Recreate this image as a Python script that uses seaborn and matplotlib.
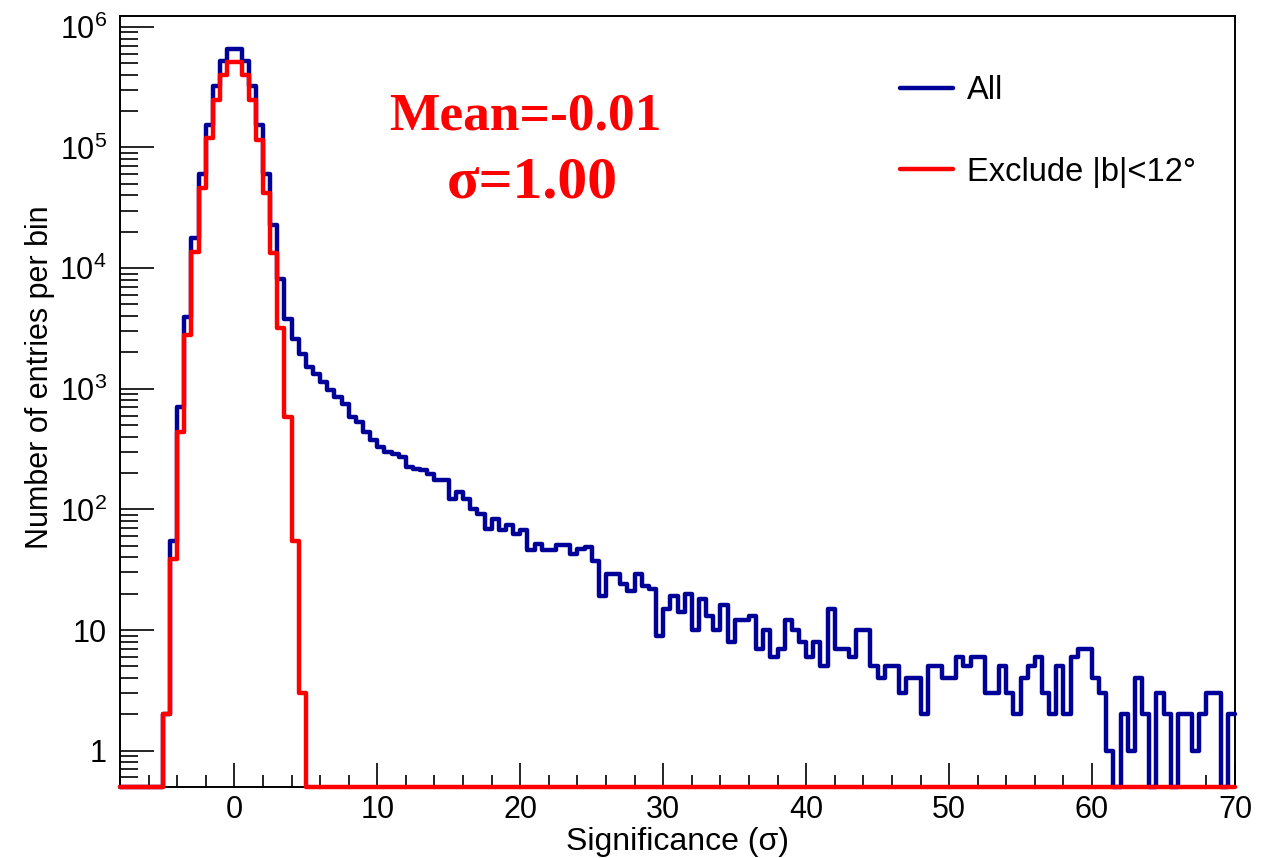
import numpy as np
import pandas as pd
import matplotlib
matplotlib.use("Agg")
import matplotlib.pyplot as plt
import seaborn as sns
from matplotlib.ticker import FixedLocator, FixedFormatter, MultipleLocator, NullFormatter

# histogram binning: 0.5 wide bins from -8 to 70
bin_lo, bin_hi, bin_w = -8.0, 70.0, 0.5

# counts per bin (bins -8 ... -5.5 are empty)
all_counts = [0] * 6 + [
    2, 55, 700, 3900, 17700, 60000, 154000, 324000, 523000, 660000,
    660000, 523000, 324000, 154000, 60000, 22700, 8200, 3820, 2610, 1960,
    1520, 1320, 1140, 973, 856, 753, 584, 530, 438, 374,
    329, 299, 286, 272, 224, 218, 211, 198, 174, 174,
    123, 139, 123, 101, 92, 69, 84, 67, 74, 63,
    67, 46, 52, 46, 46, 51, 51, 43, 47, 49,
    37, 19, 29, 29, 24, 21, 29, 23, 22, 9,
    15, 19, 14, 20, 10, 18, 13, 10, 16, 8,
    12, 12, 13, 7, 10, 6, 7, 12, 10, 8,
    6, 8, 5, 15, 7, 7, 6, 10, 10, 5,
    4, 5, 5, 3, 4, 4, 2, 5, 5, 4,
    4, 6, 5, 6, 6, 3, 3, 5, 3, 2,
    4, 5, 6, 3, 2, 5, 2, 6, 7, 7,
    4, 3, 1, 0, 2, 1, 4, 2, 0, 3,
    2, 0, 2, 2, 1, 2, 3, 3, 0, 2,
]
excl_counts = [0] * 6 + [
    2, 39, 435, 2780, 13600, 46100, 120000, 248000, 400000, 513000,
    513000, 400000, 248000, 115000, 41900, 13300, 3180, 580, 55, 3,
] + [0] * 130

series_labels = ["All", "Exclude |b|<12\u00b0"]
mean_text = "Mean=-0.01"
sigma_text = "\u03c3=1.00"

ytick_vals = [1, 10, 100, 1e3, 1e4, 1e5, 1e6]
ytick_labels = ["1", "10", r"$\mathregular{10^{2}}$", r"$\mathregular{10^{3}}$",
                r"$\mathregular{10^{4}}$", r"$\mathregular{10^{5}}$", r"$\mathregular{10^{6}}$"]

y_min, y_max = 0.5, 1.23e6
blue = "#000099"
red = "#ff0000"

sns.set_style("ticks")
plt.rcParams["font.family"] = ["Liberation Sans", "DejaVu Sans"]
plt.rcParams["mathtext.fontset"] = "custom"
plt.rcParams["mathtext.rm"] = "Liberation Sans"
for key in ["text.color", "axes.labelcolor", "xtick.color", "ytick.color"]:
    plt.rcParams[key] = "black"

edges = np.arange(bin_lo, bin_hi + bin_w / 2, bin_w)
centers = edges[:-1] + bin_w / 2

fig = plt.figure(figsize=(12.68, 8.58), dpi=100)
ax = fig.add_axes([120 / 1268, 1 - 787 / 858, 1115 / 1268, 771 / 858])

# empty bins sit on the bottom of the frame, as in ROOT
for counts, col in [(all_counts, blue), (excl_counts, red)]:
    df = pd.DataFrame({"sig": centers,
                       "n": np.maximum(np.array(counts, dtype=float), y_min)})
    sns.histplot(data=df, x="sig", weights="n", bins=list(edges), element="step",
                 fill=False, color=col, linewidth=3.2, ax=ax)

for ln in ax.lines:
    ln.set_clip_on(False)
    ln.set_zorder(3)

ax.set_yscale("log")
ax.set_xlim(bin_lo, bin_hi)
ax.set_ylim(y_min, y_max)

ax.xaxis.set_major_locator(FixedLocator(np.arange(0, 71, 10)))
ax.xaxis.set_minor_locator(MultipleLocator(2))
ax.yaxis.set_major_locator(FixedLocator(ytick_vals))
ax.yaxis.set_major_formatter(FixedFormatter(ytick_labels))
minor_y = [m * 10 ** k for k in range(-1, 7) for m in range(2, 10)]
ax.yaxis.set_minor_locator(FixedLocator(minor_y))
ax.yaxis.set_minor_formatter(NullFormatter())

ax.tick_params(axis="x", which="major", direction="in", length=17, width=1.2,
               labelsize=22, pad=6)
ax.tick_params(axis="x", which="minor", direction="in", length=8.5, width=1.2)
ax.tick_params(axis="y", which="major", direction="in", length=24.5, width=1.2,
               labelsize=22, pad=9.5)
ax.tick_params(axis="y", which="minor", direction="in", length=13, width=1.2)
for sp in ax.spines.values():
    sp.set_linewidth(1.4)
    sp.set_color("black")

ax.set_xlabel("Significance (\u03c3)", fontsize=23)
ax.xaxis.set_label_coords(0.5, -0.052)
ax.set_ylabel("Number of entries per bin", fontsize=22)
ax.yaxis.set_label_coords(-0.058, 0.532)

leg = ax.legend(ax.lines[:2], series_labels, loc="upper left", frameon=False,
                fontsize=23.5, handlelength=1.63, handletextpad=0.43,
                labelspacing=1.55, borderpad=0, borderaxespad=0,
                bbox_to_anchor=(900 / 1268, 1 - 75 / 858),
                bbox_transform=fig.transFigure)

fig.text(525 / 1268, 1 - 117 / 858, mean_text, ha="center", va="center",
         fontsize=38.5, color=red, fontweight="bold", family="Liberation Serif")
fig.text(532 / 1268, 1 - 184 / 858, sigma_text, ha="center", va="center",
         fontsize=43, color=red, fontweight="bold", family="Liberation Serif")

fig.savefig("out.png", dpi=100)
